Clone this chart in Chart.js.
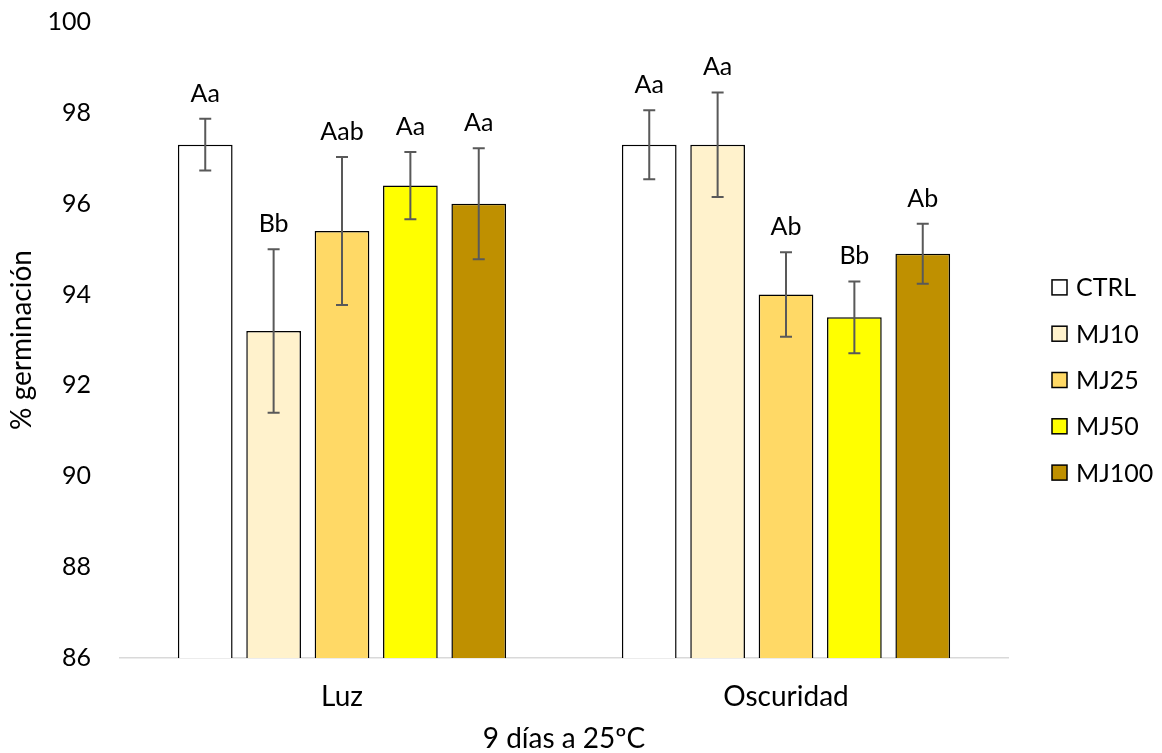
<!DOCTYPE html>
<html>
<head>
<meta charset="utf-8">
<script src="https://cdn.jsdelivr.net/npm/chart.js@4.4.1/dist/chart.umd.min.js"></script>
<style>
  html, body { margin: 0; padding: 0; background: #ffffff; }
  #wrap { width: 1162px; height: 753px; position: relative; }
</style>
</head>
<body>
<div id="wrap"><canvas id="c" width="1162" height="753"></canvas></div>
<script>
// ---- data ----
const categories = ['Luz', 'Oscuridad'];
const seriesNames = ['CTRL', 'MJ10', 'MJ25', 'MJ50', 'MJ100'];
const ctrlValues  = [97.3, 97.3];
const ctrlErrors  = [0.57, 0.76];
const ctrlLetters = ['Aa', 'Aa'];
const mj10Values  = [93.2, 97.3];
const mj10Errors  = [1.8, 1.15];
const mj10Letters = ['Bb', 'Aa'];
const mj25Values  = [95.4, 94.0];
const mj25Errors  = [1.63, 0.93];
const mj25Letters = ['Aab', 'Ab'];
const mj50Values  = [96.4, 93.5];
const mj50Errors  = [0.74, 0.79];
const mj50Letters = ['Aa', 'Bb'];
const mj100Values  = [96.0, 94.9];
const mj100Errors  = [1.22, 0.66];
const mj100Letters = ['Aa', 'Ab'];
const yMin = 86, yMax = 100, yStep = 2;
const yTitle = '% germinación';
const xTitle = '9 días a 25ºC';

const seriesColors = ['#FFFFFF', '#FFF2CC', '#FFD966', '#FFFF00', '#BF9000'];
const allValues  = [ctrlValues, mj10Values, mj25Values, mj50Values, mj100Values];
const allErrors  = [ctrlErrors, mj10Errors, mj25Errors, mj50Errors, mj100Errors];
const allLetters = [ctrlLetters, mj10Letters, mj25Letters, mj50Letters, mj100Letters];

const FONT = 'Lato';
const FS = 25;      // numbers, letters, legend
const FS_TXT = 28;  // category labels and axis titles

const datasets = seriesNames.map((name, i) => ({
  label: name,
  data: allValues[i],
  errors: allErrors[i],
  letters: allLetters[i],
  backgroundColor: seriesColors[i],
  borderColor: '#000000',
  borderWidth: 1.5,
  categoryPercentage: 0.77,
  barPercentage: 0.8
}));

const errorAndLabelPlugin = {
  id: 'errorAndLabel',
  afterDatasetsDraw(chart) {
    const ctx = chart.ctx;
    const y = chart.scales.y;
    chart.data.datasets.forEach((ds, di) => {
      const meta = chart.getDatasetMeta(di);
      meta.data.forEach((bar, j) => {
        const v = ds.data[j], e = ds.errors[j];
        const yTop = y.getPixelForValue(v + e);
        const yBot = y.getPixelForValue(v - e);
        const x = bar.x;
        ctx.save();
        ctx.strokeStyle = '#595959';
        ctx.lineWidth = 2;
        ctx.beginPath();
        ctx.moveTo(x, yTop); ctx.lineTo(x, yBot);
        ctx.moveTo(x - 6, yTop); ctx.lineTo(x + 6, yTop);
        ctx.moveTo(x - 6, yBot); ctx.lineTo(x + 6, yBot);
        ctx.stroke();
        ctx.fillStyle = '#000000';
        ctx.font = FS + 'px ' + FONT;
        ctx.textAlign = 'center';
        ctx.textBaseline = 'alphabetic';
        ctx.fillText(ds.letters[j], x, yTop - 17);
        ctx.restore();
      });
    });
  },
  afterDraw(chart) {
    // legend on the right
    const ctx = chart.ctx;
    const area = chart.chartArea;
    const boxX = area.right + 44;
    const midY = (area.top + area.bottom) / 2 + 40;
    const step = 46.3;
    const n = chart.data.datasets.length;
    chart.data.datasets.forEach((ds, i) => {
      const cy = midY + (i - (n - 1) / 2) * step;
      ctx.save();
      ctx.fillStyle = ds.backgroundColor;
      ctx.fillRect(boxX, cy - 7.5, 15, 15);
      ctx.strokeStyle = '#000000';
      ctx.lineWidth = 1.5;
      ctx.strokeRect(boxX, cy - 7.5, 15, 15);
      ctx.fillStyle = '#000000';
      ctx.font = FS + 'px ' + FONT;
      ctx.textAlign = 'left';
      ctx.textBaseline = 'middle';
      ctx.fillText(ds.label, boxX + 24, cy + 1);
      ctx.restore();
    });
  }
};

function build() {
  Chart.defaults.font.family = FONT;
  Chart.defaults.color = '#000000';
  new Chart(document.getElementById('c'), {
    type: 'bar',
    data: { labels: categories, datasets },
    options: {
      responsive: false,
      animation: false,
      devicePixelRatio: 1,
      layout: { padding: { top: 0, right: 154, bottom: 0, left: 0 } },
      plugins: {
        legend: { display: false },
        title: { display: false },
        tooltip: { enabled: false }
      },
      scales: {
        x: {
          grid: { display: false, drawTicks: false },
          border: { display: true, color: '#D9D9D9', width: 1.5 },
          ticks: { font: { size: FS_TXT }, padding: 22, color: '#000000' },
          title: { display: true, text: xTitle, font: { size: FS_TXT, lineHeight: 1 }, padding: { top: 0, bottom: 0 }, color: '#000000' },
          afterFit(s) { s.height = 95; }
        },
        y: {
          min: yMin, max: yMax,
          grid: { display: false, drawTicks: true, tickLength: 22, tickColor: 'rgba(0,0,0,0)' },
          border: { display: false },
          ticks: { stepSize: yStep, font: { size: FS }, padding: 7, color: '#000000' },
          title: { display: true, text: yTitle, font: { size: FS_TXT, lineHeight: 1 }, padding: { top: 8, bottom: 0 }, color: '#000000' },
          afterFit(s) { s.width = 120; }
        }
      }
    },
    plugins: [errorAndLabelPlugin]
  });
}

if (document.fonts && document.fonts.load) {
  document.fonts.load(FS + 'px ' + FONT).then(build, build);
} else {
  build();
}
</script>
</body>
</html>
